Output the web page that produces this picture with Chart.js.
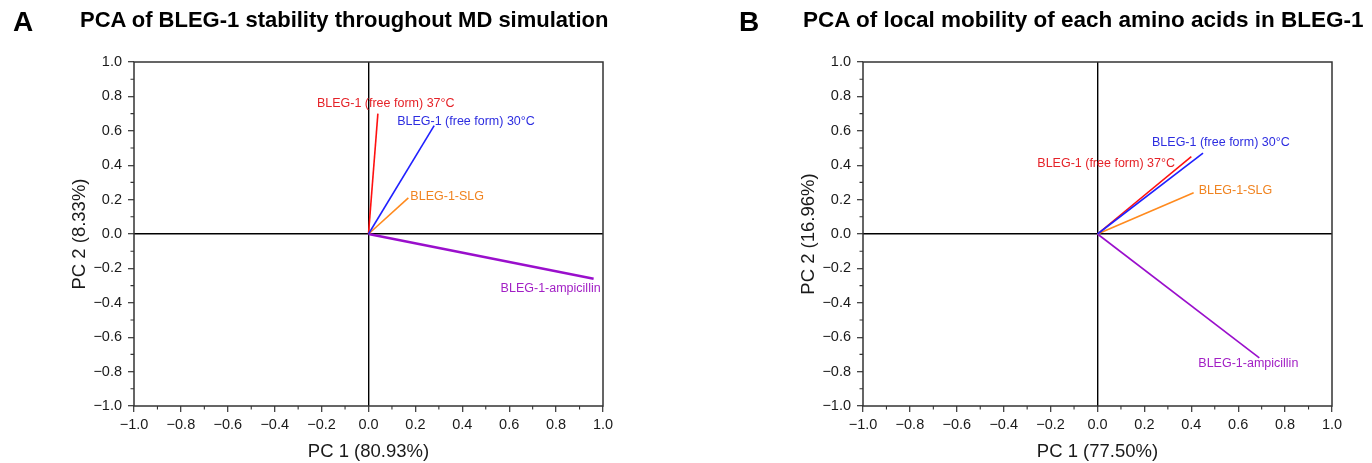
<!DOCTYPE html>
<html>
<head>
<meta charset="utf-8">
<script src="https://cdn.jsdelivr.net/npm/chart.js@4.4.0/dist/chart.umd.min.js"></script>
<style>
  body { margin: 0; background: #fff; font-family: "Liberation Sans", Arial, sans-serif; }
  #wrap { position: relative; width: 1372px; height: 463px; }
  .panel { position: absolute; top: 0; width: 686px; height: 463px; }
  .letter { position: absolute; font-weight: bold; font-size: 28px; line-height: 28px; color: #000; }
  .title { position: absolute; font-weight: bold; font-size: 22px; line-height: 22px; color: #000; white-space: nowrap; }
</style>
</head>
<body>
<div id="wrap">
  <div class="panel" style="left:0"><canvas id="chartA" width="686" height="463"></canvas></div>
  <div class="panel" style="left:686px"><canvas id="chartB" width="686" height="463"></canvas></div>
  <div class="letter" style="left:13px;top:8px">A</div>
  <div class="title" style="left:80px;top:9px">PCA of BLEG-1 stability throughout MD simulation</div>
  <div class="letter" style="left:739px;top:8px">B</div>
  <div class="title" style="left:803px;top:9px;font-size:22.5px">PCA of local mobility of each amino acids in BLEG-1</div>
</div>
<script>
// muestras (mismo orden en los dos paneles)
var nombres = ["BLEG-1 (free form) 30°C", "BLEG-1 (free form) 37°C", "BLEG-1-SLG", "BLEG-1-ampicillin"];
// panel A: estabilidad durante la simulacion MD
var pc1A = [0.28, 0.04, 0.17, 0.96];
var pc2A = [0.63, 0.70, 0.21, -0.26];
// panel B: movilidad local de cada aminoacido
var pc1B = [0.45, 0.40, 0.41, 0.69];
var pc2B = [0.47, 0.45, 0.24, -0.72];
// ticks de los ejes
var ticksEje = [-1.0, -0.8, -0.6, -0.4, -0.2, 0.0, 0.2, 0.4, 0.6, 0.8, 1.0];
var ticksMenores = [-0.9, -0.7, -0.5, -0.3, -0.1, 0.1, 0.3, 0.5, 0.7, 0.9];

var coloresLinea = ['#2020ff', '#ff1010', '#ff8a1e', '#9a0fcc'];
var coloresTexto = ['#2d2de0', '#e52228', '#f08320', '#a21fc5'];
var fuente = '"Liberation Sans", Arial, sans-serif';

function fmt(v) {
    if (Math.abs(v) < 1e-9) return '0.0';
    return v.toFixed(1).replace('-', '\u2212');
}

function etiquetas(offsets) {
    return {
        id: 'etiquetas',
        afterDraw: function (chart) {
            var ctx = chart.ctx;
            var a = chart.chartArea;
            var x = chart.scales.x, y = chart.scales.y;
            ctx.save();
            // marco completo
            ctx.strokeStyle = '#333';
            ctx.lineWidth = 1.5;
            ctx.strokeRect(a.left, a.top, a.right - a.left, a.bottom - a.top);
            // ticks menores
            ctx.lineWidth = 1.1;
            ctx.beginPath();
            ticksMenores.forEach(function (v) {
                var px = x.getPixelForValue(v);
                ctx.moveTo(px, a.bottom); ctx.lineTo(px, a.bottom + 3.5);
                var py = y.getPixelForValue(v);
                ctx.moveTo(a.left, py); ctx.lineTo(a.left - 3.5, py);
            });
            ctx.stroke();
            // nombres al final de cada vector
            ctx.font = '12.5px ' + fuente;
            ctx.textBaseline = 'middle';
            ctx.textAlign = 'left';
            chart.data.datasets.forEach(function (ds, i) {
                var pt = chart.getDatasetMeta(i).data[1];
                ctx.fillStyle = coloresTexto[i];
                ctx.fillText(ds.label, pt.x + offsets[i][0], pt.y + offsets[i][1]);
            });
            ctx.restore();
        }
    };
}

function eje(titulo, horizontal) {
    var e = {
        type: 'linear', min: -1, max: 1,
        afterBuildTicks: function (s) { s.ticks = ticksEje.map(function (v) { return { value: v }; }); },
        ticks: { callback: fmt, color: '#1a1a1a', font: { size: 14.5, family: fuente }, padding: 4, maxRotation: 0, autoSkip: false },
        grid: {
            color: function (c) { return c.tick && Math.abs(c.tick.value) < 1e-9 ? '#000' : 'rgba(0,0,0,0)'; },
            lineWidth: 1.4, tickColor: '#333', tickLength: 6, tickWidth: 1.2
        },
        border: { display: false },
        title: { display: true, text: titulo, color: '#1a1a1a', font: { size: 18.5, family: fuente }, padding: { top: 0, bottom: 0 } }
    };
    if (horizontal) {
        e.afterFit = function (s) { s.height = 57; };
    } else {
        e.afterFit = function (s) { s.width = 74; };
        e.title.padding = { top: 8.5, bottom: 0 };
        e.ticks.padding = 6;
    }
    return e;
}

function crear(id, pc1, pc2, grosores, padIzq, padDer, tituloX, tituloY, offsets) {
    var datasets = nombres.map(function (n, i) {
        return {
            label: n,
            data: [{ x: 0, y: 0 }, { x: pc1[i], y: pc2[i] }],
            showLine: true,
            borderColor: coloresLinea[i],
            borderWidth: grosores[i],
            pointRadius: 0
        };
    });
    return new Chart(document.getElementById(id), {
        type: 'scatter',
        data: { datasets: datasets },
        options: {
            responsive: false,
            animation: false,
            layout: { padding: { left: padIzq, right: padDer, top: 62, bottom: 0 } },
            plugins: { legend: { display: false }, tooltip: { enabled: false } },
            scales: { x: eje(tituloX, true), y: eje(tituloY, false) }
        },
        plugins: [etiquetas(offsets)]
    });
}

crear('chartA', pc1A, pc2A, [1.6, 1.6, 1.6, 2.4], 60, 83, 'PC 1 (80.93%)', 'PC 2 (8.33%)',
    [[-37, -4], [-61, -10.5], [2, -1], [-93, 10]]);
crear('chartB', pc1B, pc2B, [1.6, 1.6, 1.6, 1.6], 103, 40, 'PC 1 (77.50%)', 'PC 2 (16.96%)',
    [[-51, -10.7], [-154, 7], [5, -2.4], [-61, 6]]);
</script>
</body>
</html>
